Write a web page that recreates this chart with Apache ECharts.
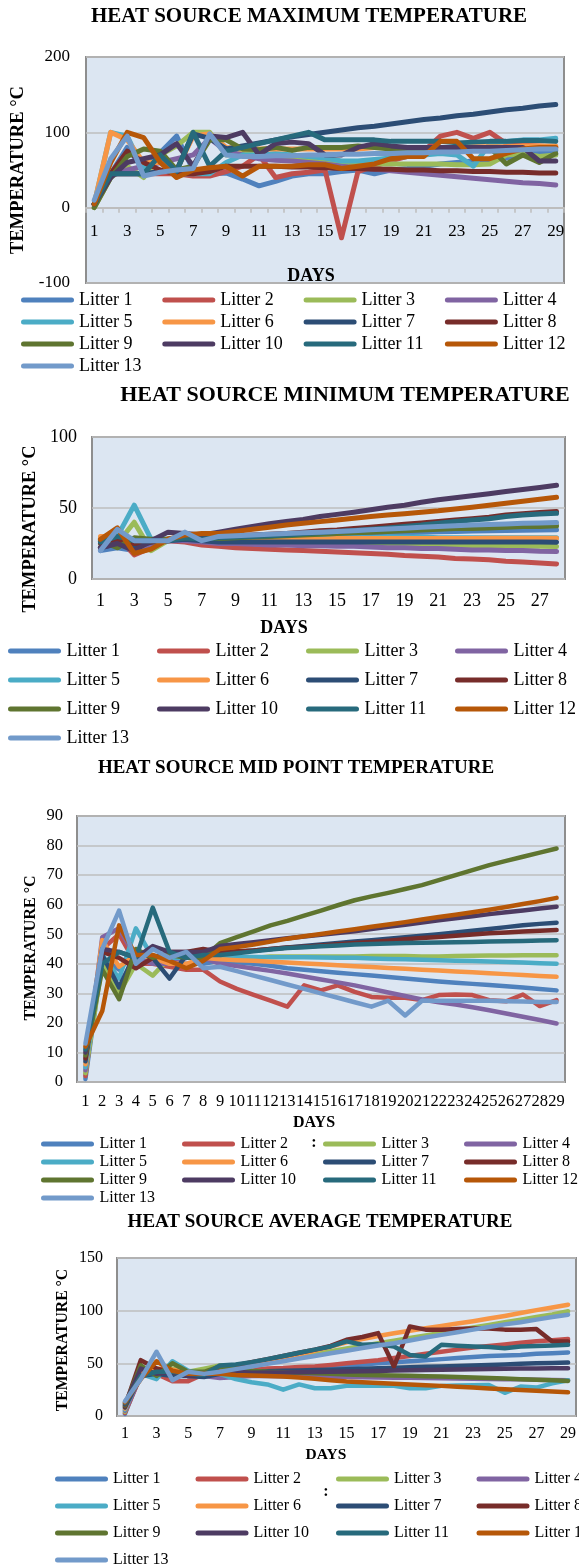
<!DOCTYPE html>
<html><head><meta charset="utf-8">
<script src="https://cdn.jsdelivr.net/npm/echarts@6/dist/echarts.min.js"></script>
<style>html,body{margin:0;padding:0;background:#fff}#c{width:579px;height:1566px}</style>
</head><body><div id="c"></div>
<script>
const litters = ['Litter 1','Litter 2','Litter 3','Litter 4','Litter 5','Litter 6','Litter 7','Litter 8','Litter 9','Litter 10','Litter 11','Litter 12','Litter 13'];
const colors = ['#4F81BD','#C0504D','#9BBB59','#8064A2','#4BACC6','#F79646','#2C4D75','#772C2A','#5F7530','#4D3B62','#276A7C','#B65708','#729ACA'];
const days29 = ['1','2','3','4','5','6','7','8','9','10','11','12','13','14','15','16','17','18','19','20','21','22','23','24','25','26','27','28','29'];
const days28 = ['1','2','3','4','5','6','7','8','9','10','11','12','13','14','15','16','17','18','19','20','21','22','23','24','25','26','27','28'];
const titles = ['HEAT SOURCE MAXIMUM TEMPERATURE','HEAT SOURCE MINIMUM TEMPERATURE','HEAT SOURCE MID POINT TEMPERATURE','HEAT SOURCE AVERAGE TEMPERATURE'];
const yTitle = 'TEMPERATURE °C';
const xTitle = 'DAYS';

// Maximum temperature (29 days)
const maxL1  = [5,45,80,50,73,95,50,45,46,38,29,35,42,45,45,48,50,45,50,52,55,58,60,62,64,66,70,73,76];
const maxL2  = [3,45,45,45,45,45,42,42,48,55,70,40,45,47,50,-40,48,55,62,68,75,95,100,92,100,85,83,82,80];
const maxL3  = [0,40,55,40,70,82,100,100,70,72,70,68,66,64,62,60,58,58,58,58,58,58,57,57,58,70,72,68,70];
const maxL4  = [5,42,50,55,60,65,70,92,75,70,65,63,62,60,58,55,53,51,49,47,45,43,41,39,37,35,33,32,30];
const maxL5  = [5,100,95,50,70,45,45,45,60,70,70,72,70,68,66,62,62,64,66,68,70,72,70,55,85,88,90,90,92];
const maxL6  = [5,100,90,60,60,50,95,98,80,78,78,78,78,78,78,78,78,80,80,80,80,80,80,81,81,81,82,82,82];
const maxL7  = [5,45,45,45,48,50,98,92,78,82,86,90,94,97,100,103,106,108,111,114,117,119,122,124,127,130,132,135,137];
const maxL8  = [5,45,75,60,50,45,45,48,55,55,55,55,54,54,53,52,52,51,51,50,50,49,49,48,48,47,47,46,46];
const maxL9  = [0,40,68,78,75,50,55,90,90,78,77,80,76,80,80,80,82,80,78,78,78,78,78,80,80,58,70,60,72];
const maxL10 = [5,40,60,65,70,85,55,95,93,100,70,85,87,85,70,70,80,85,82,80,80,80,80,80,80,80,80,62,62];
const maxL11 = [5,45,45,45,70,48,100,55,75,80,85,90,95,100,90,90,90,90,88,88,88,88,86,87,88,88,89,89,88];
const maxL12 = [5,60,100,93,60,40,50,53,55,42,55,55,55,57,57,52,55,58,65,68,68,88,88,65,65,72,78,80,80];
const maxL13 = [10,65,95,42,47,50,52,98,70,68,68,69,69,70,70,71,71,72,72,73,73,74,74,75,75,76,77,78,78];

// Minimum temperature (28 days)
const minL1  = [20,22,20,26,28,29,28,28,28.5,29,29.5,30,30.4,30.8,31.2,31.6,32,32.3,32.6,32.9,33.2,33.5,33.8,34,34.2,34.4,34.5,34.6];
const minL2  = [22,30,17,22,27,26,24,23,22,21.5,21,20.5,20,19.5,19,18.5,18,17.5,16.5,16,15.5,14.5,14,13.5,12.5,12,11.3,10.6];
const minL3  = [25,25,40,20,27,28,27,26,26,25.5,25.5,25,25,25,25,24.5,24.5,24,24,24,23.5,23.5,23.5,23,23,23,23,22.8];
const minL4  = [22,28,20,24,27,27,26,25,25,24.5,24,24,23.5,23.5,23,23,22.5,22,22,21.5,21.5,21,20.5,20.5,20,20,19.5,19.3];
const minL5  = [28,30,52,28,28,29,29,28,28,28.5,28.5,28.5,29,29,29,29,29,29.5,29.5,29.5,29,29,29,29,29,29,29,29];
const minL6  = [30,30,28,27,28,29,29,28,28,28,28,28,28,28,28.5,28.5,28.5,28.5,28.5,28.5,28.5,28.5,28.5,28.7,28.7,28.7,28.7,28.7];
const minL7  = [22,25,22,26,27,28,27,26,26,26,26,26,26,26,26,26,26,26,26,26,26,26,26,26,26,26,26,25.9];
const minL8  = [25,28,25,26,28,30,30,30,30.5,31,31.5,32,33,34,34.5,35.5,36.5,37.5,38.5,39.5,40.5,41.5,42.5,43.5,45,46,46.8,47.5];
const minL9  = [27,22,29,28,28,29,29,28.5,29,29.5,30,30.5,31,31.5,32,32.5,33,33.5,34,34.5,35,35.5,35.5,36,36.5,37,37,37.5];
const minL10 = [22,25,20,27,33,32,31,33,35,37,39,40.5,42,44,45.5,47,48.7,50.5,52,54,55.8,57.2,58.6,60,61.6,63,64.5,66];
const minL11 = [26,30,27,27,27,29,28,29,29.5,30,30.5,31,31.8,32.6,33.4,34.2,35,36,37,38,39.3,40.5,41.5,42.5,44,45,45.7,46.3];
const minL12 = [28,36,18,21,28,31,32,32,33.5,35,36.5,38,39.2,40.4,41.6,42.8,44,45,46,47,48,49.3,50.6,52,53.4,54.8,56.2,57.6];
const minL13 = [20,35,27,27,27,33,27,30,30.5,31,31.5,32,32.5,33,33.5,34,34.6,35.2,35.8,36.4,37,37.5,38,38.4,38.8,39.2,39.5,39.8];

// Mid point temperature (29 days)
const midL1  = [1,42,38,44,42,40,40,40,41,40.5,40,39.3,38.5,38,37.5,37,36.5,36,35.5,35,34.5,34,33.6,33.2,32.8,32.4,32,31.5,31];
const midL2  = [2,45,50,40,40,39,38,38,34,31.5,29.5,27.5,25.5,32.7,31,32.7,30.5,28.8,28.5,28.5,27.7,29.4,29.6,29.4,27.7,27.3,29.6,25.7,27.7];
const midL3  = [3,40,30,40,36,42,42,42,42,42,42,42.5,42.5,42.5,42.5,42.5,42.5,42.6,42.6,42.6,42.5,42.5,42.6,42.7,42.8,42.8,42.9,42.9,42.9];
const midL4  = [4,49,52,42,40,40,42,42,40,39.2,38.4,37.6,36.7,35.7,34.7,33.7,32.7,31.5,30.3,29.1,27.9,27,26.2,25.3,24.3,23.2,22.1,21,19.8];
const midL5  = [5,43,35,52,42,42,42,42,42.5,42.4,42.3,42.2,42.2,42.2,42.1,42,42,41.8,41.6,41.5,41.4,41.2,41,40.9,40.8,40.6,40.4,40.2,40];
const midL6  = [6,48,39,43,42,40,40,42,41.5,41.2,41,40.7,40.4,40.1,39.8,39.5,39.2,38.9,38.6,38.3,38,37.7,37.4,37.1,36.8,36.5,36.2,35.9,35.6];
const midL7  = [7,43,32,44,42,35,43,44,43.5,44,44.5,45,45.5,46,46.5,47,47.5,48,48.5,49,49.5,50,50.6,51.2,51.8,52.4,53,53.5,53.9];
const midL8  = [8,44,42,38.5,42,44,44,45,44,44.2,44.5,45,45.5,45.8,46.2,46.6,47,47.4,47.8,48.3,48.7,49.1,49.5,49.9,50.3,50.6,50.9,51.2,51.4];
const midL9  = [9,38,28,45,42,43,42,42,47,49,51,53,54.5,56.3,58,59.8,61.5,62.8,64,65.3,66.6,68.3,70,71.7,73.4,74.8,76.2,77.6,79];
const midL10 = [10,45,44,42,46,44,44,44,46,46.7,47.3,48,48.6,49.2,49.8,50.4,51,51.8,52.5,53.2,54,54.7,55.4,56.1,56.8,57.4,58,58.7,59.3];
const midL11 = [11,40,44,42,59,44,42,43,43,43.6,44.2,44.8,45.3,45.6,45.9,46.2,46.5,46.7,46.9,47,47.1,47.2,47.3,47.4,47.5,47.6,47.7,47.9,48];
const midL12 = [12,24,53,43,43,41,38.5,41,45,45.7,46.5,47.5,48.5,49.3,50.1,50.9,51.7,52.5,53.3,54.1,55,55.8,56.6,57.4,58.3,59.2,60.2,61.2,62.3];
const midL13 = [13,45,58,40,45,42,44,38.5,39,37.5,36,34.5,33,31.5,30,28.5,27,25.5,27.5,22.5,27.5,27.5,27.5,27.5,27.5,27.3,27.2,27.1,27.1];

// Average temperature (29 days)
const avgL1  = [2,40,45,38,40,38,42,42,42,43,44,45,46,47,48,49,50,51,52,53,54,55,56,57,57.5,58,59,59.5,60.3];
const avgL2  = [3,38,40,33,33,40,42,43,44,45,45.5,46.5,47,48.5,50,51.5,53,55,57,59,61,63,65,66.5,68,69.5,71,72,73];
const avgL3  = [4,47,40,45,42,45,48,48,49,51.5,54,56.5,59,61.5,64,66.5,69,71.5,74,76.5,79,81.5,84,86.5,89,91.5,94,96.5,99.4];
const avgL4  = [5,38,42,40,38,38,36,37,38,38,37.8,37.6,37.4,37.2,37,36.8,36.6,36.4,36.2,36,35.8,35.6,35.4,35.2,35,34.8,34.5,34.2,34];
const avgL5  = [6,40,35,52,43,40,40,35,32,30,25,30,26.3,26.3,28.6,28.6,28.6,28.6,26.3,26.3,28.6,29,29.2,29.5,22,28,27,31,34];
const avgL6  = [7,42,45,44,42,40,44,45,47,51,55,58.5,62,66,70,73,76,78.5,81,83.3,85.5,87.8,90,92.5,95,97.8,100.5,103,105.7];
const avgL7  = [8,38,40,38,38,37,40,41,42,42.5,43,43.3,43.6,44,44.3,44.8,45.3,45.8,46.3,46.7,47,47.5,48,48.5,49,49.5,50,50.4,50.8];
const avgL8  = [9,53,45,42,38,40,47,48,51,54,57,60,63,66.5,72.4,75,78.7,47,85,82,82,82.5,83,83,82,82,82.5,70.8,70.8];
const avgL9  = [10,48,38,50,42,42,47,45,43,42,41.5,41,40.5,40,39.5,39,38.8,38.5,38.2,37.8,37.5,37,36.5,36,35.5,35,34.5,34,33.3];
const avgL10 = [11,45,40,42,38,40,42,42,41,41.2,41.4,41.6,41.8,42,42.2,42.5,42.8,43.1,43.4,43.7,44,44.2,44.4,44.6,44.8,45,45.1,45.3,45.4];
const avgL11 = [12,38,42,42,40,39,48,49,51,54,57,60,63,66,70.8,67.6,68,66,58,56.5,67.6,66.7,66,65.5,64.4,66,66.5,67,67.6];
const avgL12 = [13,35,52,43,40,40,40,39,38.5,38,37.5,36.5,35.3,34,32.7,32,31.3,30.6,29.9,29.2,28.6,27.8,27,26.2,25.4,24.7,24,23.2,22.5];
const avgL13 = [14,35,61,34,42,40,42,44.5,47,49.5,52,54.5,57,59.5,62,64.5,67,69,71.7,74.5,77,79.5,82,84.5,87,89,91.5,94,96.2];

const maxSet = [maxL1,maxL2,maxL3,maxL4,maxL5,maxL6,maxL7,maxL8,maxL9,maxL10,maxL11,maxL12,maxL13];
const minSet = [minL1,minL2,minL3,minL4,minL5,minL6,minL7,minL8,minL9,minL10,minL11,minL12,minL13];
const midSet = [midL1,midL2,midL3,midL4,midL5,midL6,midL7,midL8,midL9,midL10,midL11,midL12,midL13];
const avgSet = [avgL1,avgL2,avgL3,avgL4,avgL5,avgL6,avgL7,avgL8,avgL9,avgL10,avgL11,avgL12,avgL13];

const FF = '"Liberation Serif","Times New Roman",serif';
const ICON = 'path://M2.5,0H50.5A2.5,2.5,0,0,1,50.5,5H2.5A2.5,2.5,0,0,1,2.5,0Z';

function mkSeries(set, idx, w) {
  return set.map((d, i) => ({
    name: litters[i], type: 'line', xAxisIndex: idx, yAxisIndex: idx, data: d,
    symbol: 'none', showSymbol: false, smooth: false,
    lineStyle: { width: w, color: colors[i], cap: 'round', join: 'round' },
    itemStyle: { color: colors[i] },
    emphasis: { disabled: true }
  }));
}
// one legend component per row so that row spacing and column spacing are independent
function mkLegendRows(left, row1Center, pitch, rowPitch, gap, itemW, fs) {
  const out = [];
  for (let r = 0; r * 4 < litters.length; r++) {
    out.push({
      data: litters.slice(r * 4, r * 4 + 4), left: left, top: row1Center + r * rowPitch - fs / 2 + 2, width: pitch * 4,
      orient: 'horizontal', padding: 0, itemGap: gap, itemWidth: itemW, itemHeight: 5,
      icon: ICON,
      textStyle: { fontFamily: FF, fontSize: fs, color: '#000', width: pitch - itemW - 5 - gap, lineHeight: fs, overflow: 'none' }
    });
  }
  return out;
}
function gridOf(l, t, w, h) {
  return { left: l, top: t, width: w, height: h, show: true, backgroundColor: '#DCE6F2', borderColor: '#8E8E8E', borderWidth: 2, containLabel: false };
}
function yAx(idx, min, max, interval, fs, margin) {
  return { type: 'value', gridIndex: idx, min: min, max: max, interval: interval,
    axisLine: { show: false }, axisTick: { show: false },
    splitLine: { show: true, lineStyle: { color: '#BEBEBE', width: 1.5 } },
    axisLabel: { fontFamily: FF, fontSize: fs, color: '#000', margin: margin } };
}
function xAx(idx, cats, labInt, fs, margin, extra) {
  return Object.assign({ type: 'category', gridIndex: idx, data: cats, boundaryGap: true,
    axisLine: { show: false }, axisTick: { show: false }, splitLine: { show: false },
    axisLabel: { interval: labInt, fontFamily: FF, fontSize: fs, color: '#000', margin: margin } }, extra || {});
}
function txt(x, y, s, fs, rot) {
  return { type: 'text', x: x, y: y, rotation: rot || 0, z: 100,
    style: { text: s, fontFamily: FF, fontSize: fs, fontWeight: 'bold', fill: '#000', align: 'center', verticalAlign: 'middle' } };
}

const chart = echarts.init(document.getElementById('c'), null, { renderer: 'canvas' });
chart.setOption({
  animation: false,
  backgroundColor: '#fff',
  grid: [gridOf(86, 57, 478, 226), gridOf(92, 437, 473, 142), gridOf(77, 816, 488, 266), gridOf(117, 1258, 464, 158)],
  xAxis: [
    // chart 1: the category axis sits on the zero line (one third of the plot height above the bottom)
    xAx(0, days29, 1, 17, 15, {
      position: 'bottom', offset: -226 / 3,
      axisLine: { show: true, onZero: false, lineStyle: { color: '#BDBDBD', width: 2 } },
      axisTick: { show: true, interval: 0, length: 5, lineStyle: { color: '#BDBDBD', width: 1.5 } }
    }),
    xAx(1, days28, 1, 18, 13),
    xAx(2, days29, 0, 16.5, 11),
    xAx(3, days29, 1, 16, 10)
  ],
  yAxis: [
    yAx(0, -100, 200, 100, 17, 16),
    yAx(1, 0, 100, 50, 18, 15),
    yAx(2, 0, 90, 10, 16.5, 14),
    yAx(3, 0, 150, 50, 16, 14)
  ],
  legend: [].concat(
    mkLegendRows(21, 298, 141.3, 22, 8, 53, 18),
    mkLegendRows(8, 649, 149.5, 29, 10, 54, 18),
    mkLegendRows(41, 1142, 141.5, 18, 6, 54, 16),
    mkLegendRows(55, 1477, 140.5, 27, 10, 53, 16)
  ),
  graphic: [
    txt(309, 17, titles[0], 21), txt(345, 395, titles[1], 22), txt(296, 768, titles[2], 19), txt(320, 1222, titles[3], 19),
    txt(18, 170, yTitle, 18.5, Math.PI / 2), txt(30, 529, yTitle, 18.4, Math.PI / 2),
    txt(31, 948, yTitle, 16, Math.PI / 2), txt(63, 1340, yTitle, 15.7, Math.PI / 2),
    txt(311, 276, xTitle, 18), txt(284, 628, xTitle, 18), txt(314, 1123, xTitle, 16), txt(326, 1455, xTitle, 15.5),
    txt(314, 1143, ':', 16), txt(326, 1492, ':', 16)
  ],
  series: [].concat(mkSeries(maxSet, 0, 5), mkSeries(minSet, 1, 5), mkSeries(midSet, 2, 4.5), mkSeries(avgSet, 3, 4.5))
});
</script></body></html>
